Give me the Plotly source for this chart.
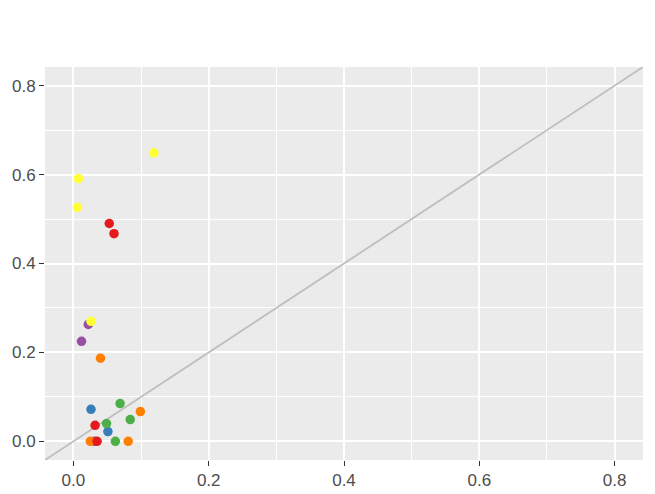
import plotly.graph_objects as go

groups = ["red", "blue", "green", "purple", "orange", "yellow"]
colors = ["#E41A1C", "#377EB8", "#4DAF4A", "#984EA3", "#FF7F00", "#FFFF33"]

x_red = [0.053, 0.060, 0.032, 0.035]
y_red = [0.490, 0.467, 0.036, 0.000]
x_blue = [0.026, 0.051]
y_blue = [0.072, 0.022]
x_green = [0.069, 0.084, 0.049, 0.062]
y_green = [0.085, 0.049, 0.040, 0.000]
x_purple = [0.022, 0.012, 0.031]
y_purple = [0.263, 0.225, 0.000]
x_orange = [0.040, 0.099, 0.025, 0.081]
y_orange = [0.187, 0.067, 0.000, 0.000]
x_yellow = [0.119, 0.0075, 0.006, 0.026]
y_yellow = [0.649, 0.591, 0.526, 0.270]

xs = [x_red, x_blue, x_green, x_purple, x_orange, x_yellow]
ys = [y_red, y_blue, y_green, y_purple, y_orange, y_yellow]

diag = [-1.0, 1.0]
x_ticks = [0.0, 0.2, 0.4, 0.6, 0.8]
rng = [-0.042, 0.842]

fig = go.Figure()
fig.add_trace(go.Scatter(x=diag, y=diag, mode="lines",
                         line=dict(color="#BEBEBE", width=1.8),
                         showlegend=False, hoverinfo="skip"))
order = [3, 1, 2, 4, 0, 5]
for i in order:
    fig.add_trace(go.Scatter(x=xs[i], y=ys[i], mode="markers", name=groups[i],
                             marker=dict(color=colors[i], size=9.5, line=dict(width=0)),
                             showlegend=False))

axis_common = dict(
    range=rng, tickvals=x_ticks, ticktext=[f"{t:.1f}" for t in x_ticks],
    showgrid=True, gridcolor="white", gridwidth=2, zeroline=False,
    ticks="outside", ticklen=5, tickwidth=1.3, tickcolor="#333333",
    tickfont=dict(family="Liberation Sans, Arial, sans-serif", size=17, color="#4D4D4D"),
    minor=dict(dtick=0.1, tick0=0.1, showgrid=True, gridcolor="white", gridwidth=1, ticks=""),
    showline=False, automargin=False,
)

fig.update_layout(
    width=655, height=494,
    margin=dict(l=45, r=12, t=67, b=34),
    paper_bgcolor="white", plot_bgcolor="#EBEBEB",
    xaxis=axis_common, yaxis=axis_common,
)
fig.write_html("out.html")
